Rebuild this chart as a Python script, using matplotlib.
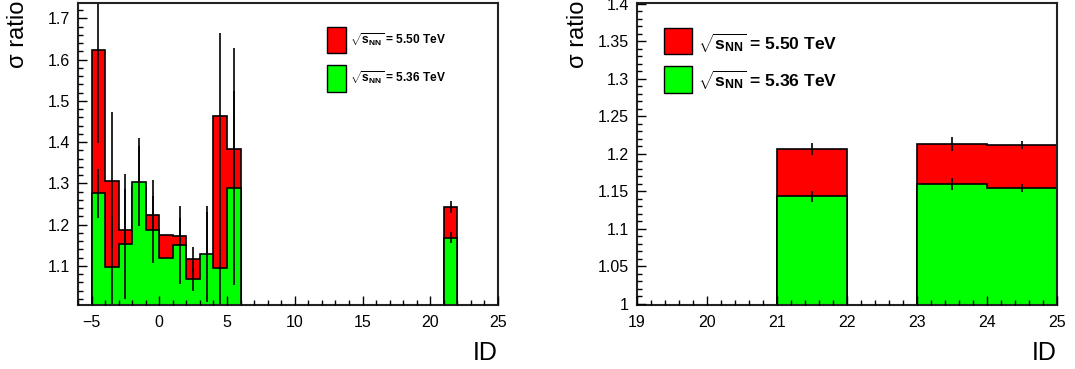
import matplotlib
matplotlib.use("Agg")
import matplotlib.pyplot as plt
import numpy as np
from matplotlib.patches import Rectangle
from matplotlib.ticker import MultipleLocator, FuncFormatter

plt.rcParams["font.family"] = ["Liberation Sans", "DejaVu Sans"]
plt.rcParams["mathtext.fontset"] = "custom"
plt.rcParams["mathtext.rm"] = "Liberation Sans"
plt.rcParams["mathtext.bf"] = "Liberation Sans:bold"
plt.rcParams["mathtext.it"] = "Liberation Sans:italic"

# ---- data: cross-section ratios per ID bin [id, id+1) ----
left_ids = [-5, -4, -3, -2, -1, 0, 1, 2, 3, 4, 5, 21]
left_ratio_550 = [1.623, 1.306, 1.188, 1.290, 1.223, 1.175, 1.172, 1.116, 1.120, 1.464, 1.384, 1.242]
left_err_550 = [0.226, 0.166, 0.134, 0.100, 0.084, 0.0, 0.045, 0.030, 0.110, 0.200, 0.243, 0.015]
left_ratio_536 = [1.276, 1.098, 1.153, 1.303, 1.187, 1.120, 1.151, 1.067, 1.129, 1.094, 1.288, 1.168]
left_err_536 = [0.059, 0.120, 0.134, 0.107, 0.081, 0.0, 0.094, 0.028, 0.117, 0.170, 0.235, 0.013]

right_ids = [21, 23, 24]
right_ratio_550 = [1.206, 1.213, 1.212]
right_err_550 = [0.008, 0.009, 0.0055]
right_ratio_536 = [1.143, 1.159, 1.154]
right_err_536 = [0.0073, 0.008, 0.0055]

labels = [r"$\sqrt{\mathbf{s}_{\mathbf{NN}}}$ = 5.50 TeV",
          r"$\sqrt{\mathbf{s}_{\mathbf{NN}}}$ = 5.36 TeV"]
colors = ["#ff0000", "#00ff00"]

W, H = 1075, 369
fig = plt.figure(figsize=(W / 100, H / 100), dpi=100)


def px_axes(x0, x1, ytop, ybot):
    return fig.add_axes([x0 / W, 1 - ybot / H, (x1 - x0) / W, (ybot - ytop) / H])


def fill_hist(edges, ids, vals):
    h = np.zeros(len(edges) - 1)
    for i, v in zip(ids, vals):
        h[int(np.searchsorted(edges, i))] = v
    return h


def draw_panel(ax, edges, ids, series):
    z = 2.0
    for (vals, errs), col in series:
        h = fill_hist(edges, ids, vals)
        ax.stairs(h, edges, fill=True, facecolor=col, edgecolor="black",
                  linewidth=1.2, zorder=z)
        ax.errorbar(np.array(ids) + 0.5, vals, yerr=errs, fmt="none",
                    ecolor="black", elinewidth=1.2, capsize=0, zorder=z + 0.1)
        z += 0.2


def style(ax, xmaj, xmin, ymaj, ymin):
    ax.set_axisbelow(False)
    ax.xaxis.set_major_locator(MultipleLocator(xmaj))
    ax.xaxis.set_minor_locator(MultipleLocator(xmin))
    ax.yaxis.set_major_locator(MultipleLocator(ymaj))
    ax.yaxis.set_minor_locator(MultipleLocator(ymin))
    ax.yaxis.set_major_formatter(FuncFormatter(lambda v, p: f"{v:g}"))
    ax.xaxis.set_major_formatter(FuncFormatter(lambda v, p: f"{v:g}".replace("-", "\u2212")))
    ax.tick_params(which="both", direction="in", top=False, right=False, labelsize=11.5)
    ax.tick_params(which="major", length=6.2, width=1.0)
    ax.tick_params(which="minor", length=3.3, width=1.0)
    ax.tick_params(axis="y", pad=5.5)
    ax.tick_params(axis="x", pad=7)
    for s in ax.spines.values():
        s.set_linewidth(1.5)
        s.set_color("#222222")


def legend(x_box, w_box, boxes, x_text, baselines, fs):
    for (yt, yb), col, base, lab in zip(boxes, colors, baselines, labels):
        fig.patches.append(Rectangle((x_box / W, 1 - yb / H), w_box / W, (yb - yt) / H,
                                     transform=fig.transFigure, facecolor=col,
                                     edgecolor="black", linewidth=1.0))
        fig.text(x_text / W, 1 - base / H, lab, fontsize=fs, fontweight="bold",
                 ha="left", va="baseline")


# left panel
axL = px_axes(78, 498, 3, 305)
edgesL = np.arange(-5, 26)
draw_panel(axL, edgesL, left_ids,
           [((left_ratio_550, left_err_550), colors[0]),
            ((left_ratio_536, left_err_536), colors[1])])
axL.set_xlim(-6, 25)
axL.set_ylim(1.005, 1.737)
style(axL, 5, 1, 0.1, 0.02)
legend(327, 19, [(26.7, 53.3), (65, 91.7)], 350, [43.5, 82], 8.6)

# right panel
axR = px_axes(636.5, 1057, 3, 305)
edgesR = np.arange(19, 26)
draw_panel(axR, edgesR, right_ids,
           [((right_ratio_550, right_err_550), colors[0]),
            ((right_ratio_536, right_err_536), colors[1])])
axR.set_xlim(19, 25)
axR.set_ylim(0.998, 1.401)
style(axR, 1, 0.2, 0.05, 0.01)
legend(663.5, 28, [(27.7, 54.3), (66, 93.3)], 698, [50, 87.5], 12.6)

# axis titles
for xc in (18, 578):
    fig.text(xc / W, 1 - 68 / H, "\u03c3 ratio", rotation=90, fontsize=17,
             ha="center", va="bottom")
for xr in (498, 1057):
    fig.text(xr / W, 1 - 360 / H, "ID", fontsize=18, ha="right", va="baseline")

fig.savefig("out.png", dpi=100)
